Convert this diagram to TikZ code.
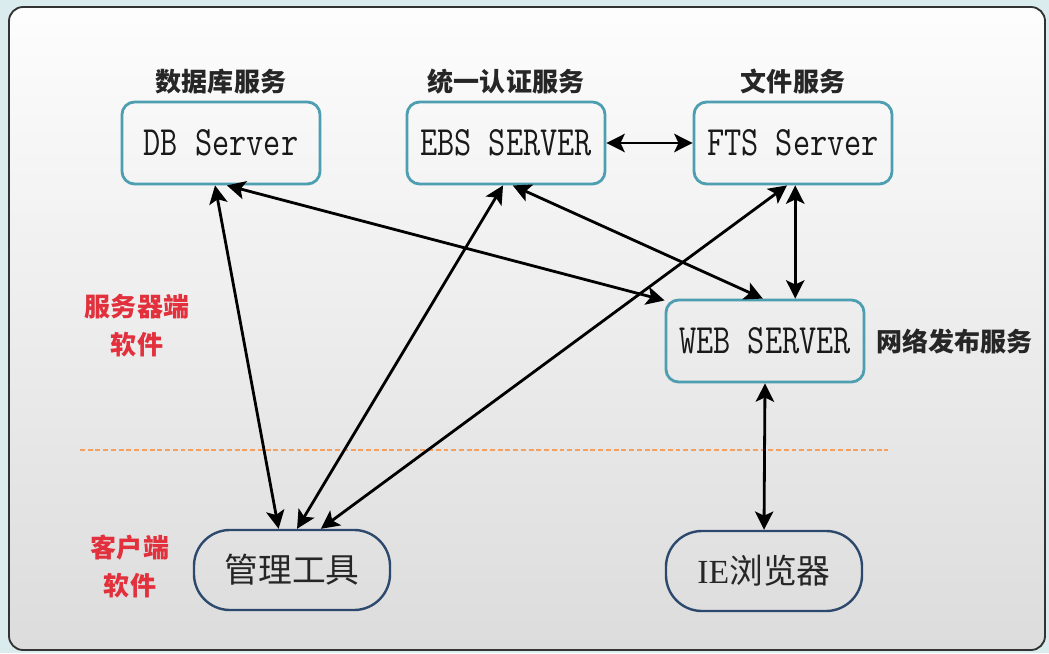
\documentclass[tikz,border=0pt]{standalone}
\usepackage{fontspec}
\usepackage{graphicx}
\usepackage{tikz}
\usetikzlibrary{arrows.meta,positioning}
\newfontfamily\cjk{Noto Sans CJK SC}
\newfontfamily\latinserif{Liberation Serif}
\definecolor{outerbg}{RGB}{218,236,238}
\definecolor{frametop}{RGB}{253,253,253}
\definecolor{framebottom}{RGB}{220,220,220}
\definecolor{serverline}{RGB}{78,158,178}
\definecolor{clientline}{RGB}{44,72,108}
\definecolor{zonered}{RGB}{226,48,60}
\definecolor{splitorange}{RGB}{244,160,96}
\newcommand\tallbox[1]{\scalebox{1}[1.25]{#1}}

\begin{document}
\begin{tikzpicture}[x=0.025cm,y=0.025cm,
  server/.style={draw=serverline,line width=2pt,rounded corners=9pt,
    minimum width=4.95cm,minimum height=2.05cm,inner sep=0pt,
    font=\ttfamily\fontsize{23.7}{28}\selectfont\addfontfeature{FakeBold=0.5},text=black!90},
  client/.style={draw=clientline,line width=1.7pt,rounded corners=0.9cm,
    minimum width=4.9cm,minimum height=2cm,inner sep=0pt,
    font=\cjk\fontsize{24}{28}\selectfont,text=black!85},
  service/.style={font=\cjk\bfseries\fontsize{18.5}{22}\selectfont,text=black!85},
  zone/.style={font=\cjk\bfseries\fontsize{18.5}{27}\selectfont,text=zonered,align=center},
  link/.style={{Stealth[length=13pt,width=13pt,inset=3pt]}-{Stealth[length=13pt,width=13pt,inset=3pt]},line width=2pt}]
\fill[outerbg] (0,0) rectangle (1049,653);
\shade[top color=frametop,bottom color=framebottom,draw=black!80,line width=1.3pt,rounded corners=10pt] (9,3) rectangle (1045,646);

\node[server] (db) at (221,510) {\tallbox{DB Server}};
\node[server] (ebs) at (506,510) {\tallbox{EBS SERVER}};
\node[server] (fts) at (793,510) {\tallbox{FTS Server}};
\node[server] (web) at (765,312) {\tallbox{WEB SERVER}};
\node[client] (tool) at (292,83) {管理工具};
\node[client] (ie) at (764,82) {{\latinserif IE}浏览器};

\node[service,above=1pt of db] (dblabel) {数据库服务};
\node[service,above=1pt of ebs] (ebslabel) {统一认证服务};
\node[service,above=1pt of fts] (ftslabel) {文件服务};
\node[service,right=4pt of web] (weblabel) {网络发布服务};

\node[zone] (serverzone) at (137,327) {服务器端\\软件};
\node[zone] (clientzone) at (130,87) {客户端\\软件};

\coordinate (splitL) at (80,203);
\coordinate (splitR) at (888,203);
\draw[splitorange,line width=1.4pt,dash pattern=on 3.5pt off 2pt] (splitL) -- (splitR);

\draw[link] (db.262) -- (tool.108);
\draw[link] (db.278) -- (web.158);
\draw[link] (ebs.266) -- (tool.83);
\draw[link] (ebs.279) -- (web.93);
\draw[link] (fts.262) -- (tool.55);
\draw[link] (fts.273) -- (fts.273 |- web.north);
\draw[link] (web.south) -- (ie.north);
\draw[link] (ebs.east) -- (fts.west);
\end{tikzpicture}
\end{document}
